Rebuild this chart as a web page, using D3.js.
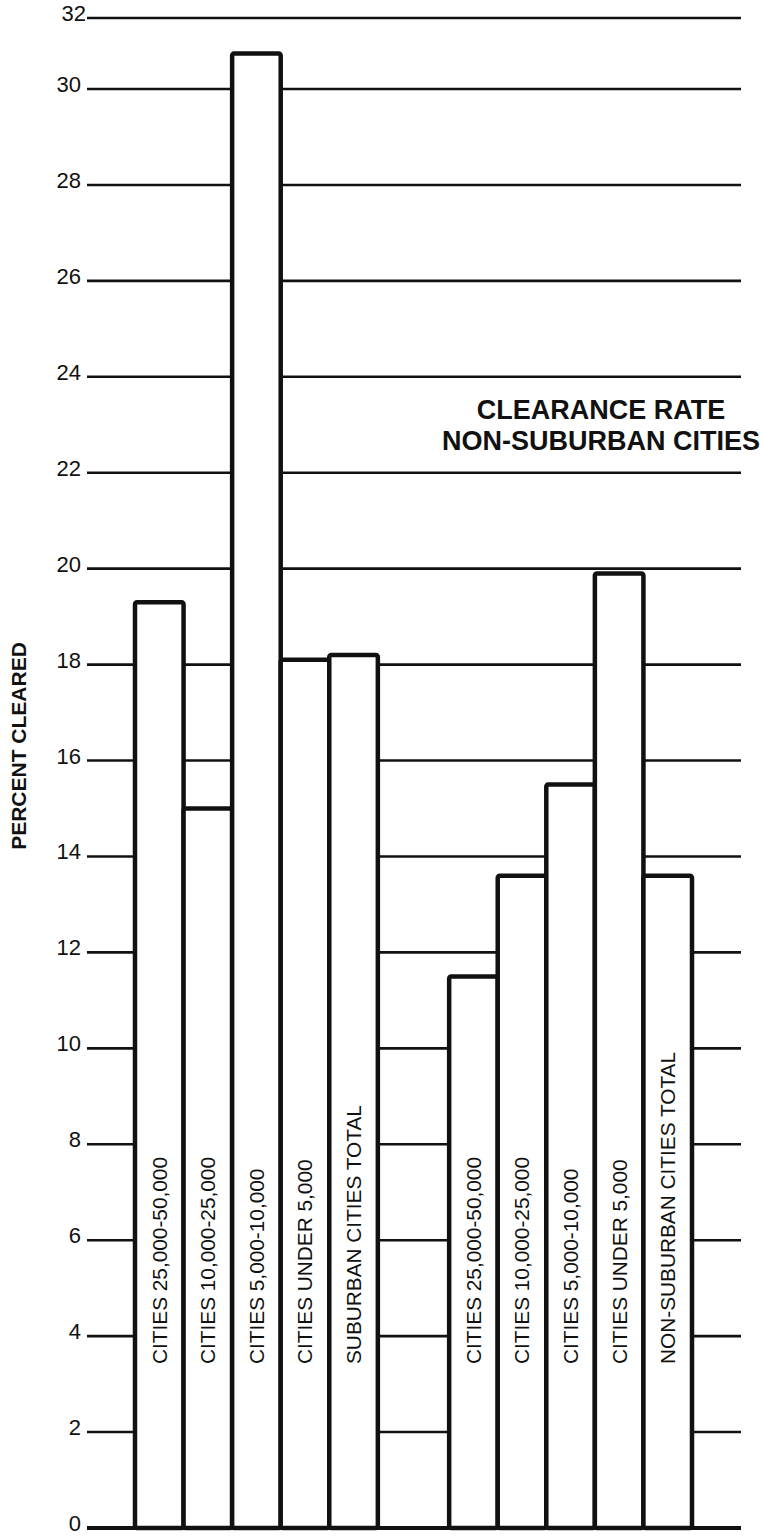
<!DOCTYPE html>
<html>
<head>
<meta charset="utf-8">
<script src="https://cdnjs.cloudflare.com/ajax/libs/d3/7.8.5/d3.min.js"></script>
<style>
  html, body { margin: 0; padding: 0; background: #fff; }
  svg { display: block; }
  text { font-family: "Liberation Sans", Arial, Helvetica, sans-serif; fill: #111; }
</style>
</head>
<body>
<svg id="chart" width="763" height="1536"></svg>
<script>
// ---- data ----
const groups = ["SUBURBAN", "NON-SUBURBAN"];
const suburbanLabels = ["CITIES 25,000-50,000", "CITIES 10,000-25,000", "CITIES 5,000-10,000", "CITIES UNDER 5,000", "SUBURBAN CITIES TOTAL"];
const suburbanValues = [19.3, 15.0, 31.0, 18.1, 18.2];
const nonSuburbanLabels = ["CITIES 25,000-50,000", "CITIES 10,000-25,000", "CITIES 5,000-10,000", "CITIES UNDER 5,000", "NON-SUBURBAN CITIES TOTAL"];
const nonSuburbanValues = [11.5, 13.6, 15.5, 19.9, 13.6];
const yTicks = [0, 2, 4, 6, 8, 10, 12, 14, 16, 18, 20, 22, 24, 26, 28, 30, 32];
const titleLines = ["CLEARANCE RATE", "NON-SUBURBAN CITIES"];
const yTitle = "PERCENT CLEARED";

const rows = [];
groups.forEach((g, gi) => {
  const labels = gi === 0 ? suburbanLabels : nonSuburbanLabels;
  const values = gi === 0 ? suburbanValues : nonSuburbanValues;
  labels.forEach((l, i) => rows.push({ group: g, idx: i, label: l, value: values[i] }));
});

const svg = d3.select("#chart");

const y = d3.scaleLinear().domain([0, 30, 32]).range([1528, 89, 18]);
const xo = d3.scaleBand().domain(groups).range([135, 692]).paddingInner(0.227);
const xi = d3.scaleBand().domain(d3.range(5)).range([0, xo.bandwidth()]);

const gridX0 = 87, gridX1 = 741;

// gridlines
svg.append("g").selectAll("line").data(yTicks.filter(d => d !== 0)).join("line")
  .attr("x1", gridX0).attr("x2", gridX1)
  .attr("y1", d => y(d)).attr("y2", d => y(d))
  .attr("stroke", "#111").attr("stroke-width", 2.6);

// tick labels
svg.append("g").selectAll("text").data(yTicks).join("text")
  .attr("x", d => d === 32 ? 86 : 81)
  .attr("y", d => y(d) + 3)
  .attr("text-anchor", "end")
  .attr("font-size", 22)
  .text(d => d);

// bars
svg.append("g").selectAll("rect").data(rows).join("rect")
  .attr("x", d => xo(d.group) + xi(d.idx))
  .attr("width", xi.bandwidth())
  .attr("y", d => y(d.value))
  .attr("height", d => y(0) - y(d.value))
  .attr("rx", 2)
  .attr("fill", "#fff")
  .attr("stroke", "#111")
  .attr("stroke-width", 4.5);

// baseline
svg.append("line")
  .attr("x1", gridX0).attr("x2", gridX1)
  .attr("y1", y(0)).attr("y2", y(0))
  .attr("stroke", "#111").attr("stroke-width", 4);

// bar labels (rotated)
const labelSize = 20.8;
const capH = labelSize * 0.716;
svg.append("g").selectAll("text").data(rows).join("text")
  .attr("transform", d => `translate(${xo(d.group) + xi(d.idx) + xi.bandwidth() / 2 + capH / 2},1364) rotate(-90)`)
  .attr("font-size", labelSize)
  .text(d => d.label);

// title
svg.append("g").selectAll("text").data(titleLines).join("text")
  .attr("x", 601)
  .attr("y", (d, i) => 419 + i * 31)
  .attr("text-anchor", "middle")
  .attr("font-size", 27)
  .attr("font-weight", "bold")
  .text(d => d);

// y-axis title
svg.append("text")
  .attr("transform", `translate(${18 + 21 * 0.716 / 2},746) rotate(-90)`)
  .attr("text-anchor", "middle")
  .attr("font-size", 21)
  .attr("font-weight", "bold")
  .text(yTitle);
</script>
</body>
</html>
